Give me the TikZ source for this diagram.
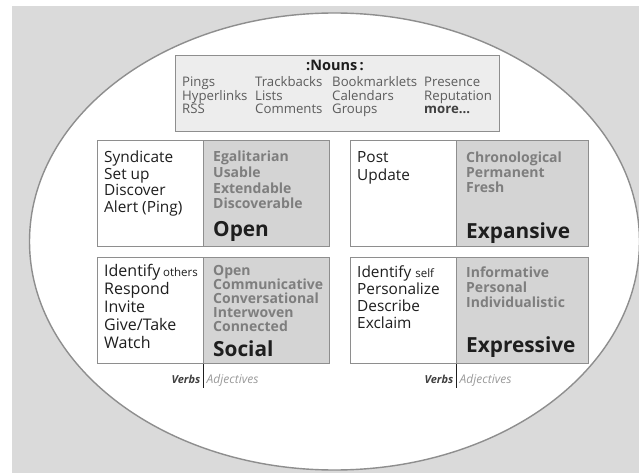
\documentclass[tikz,border=0pt]{standalone}
\usepackage{fontspec}
\setmainfont{Open Sans}
\definecolor{bg}{HTML}{DADADA}
\definecolor{rim}{HTML}{8E8E8E}
\definecolor{adjfill}{HTML}{D4D4D4}
\definecolor{nounfill}{HTML}{EDEDED}
\definecolor{adjtext}{HTML}{7E7E7E}
\definecolor{nountext}{HTML}{5C5C5C}
\definecolor{ink}{HTML}{1E1E1E}
\definecolor{tagtext}{HTML}{9A9A9A}
\begin{document}
\begin{tikzpicture}[x=1pt,y=-1pt,
  txt/.style={anchor=base west, inner sep=0pt},
  verb/.style={txt, text=ink, font=\fontsize{15.4}{15.4}\selectfont},
  bigverb/.style={txt, text=ink, font=\fontsize{16}{16}\selectfont},
  adj/.style={txt, text=adjtext, font=\bfseries\fontsize{14}{14}\selectfont},
  head/.style={txt, text=ink, font=\bfseries\fontsize{20.8}{20.8}\selectfont},
  noun/.style={txt, text=nountext, font=\fontsize{13.2}{13.2}\selectfont},
  verbbox/.style={draw=rim, line width=1.1pt, fill=white, anchor=north west, inner sep=0pt, minimum width=106pt, minimum height=105.5pt},
  adjbox/.style={draw=rim, line width=1.1pt, fill=adjfill, anchor=north west, inner sep=0pt, minimum height=105.5pt},
  tick/.style={draw=ink, line width=1pt}]
\useasboundingbox (0,0) rectangle (639,473);
% backdrop and oval
\fill[bg] (12,6) rectangle (639,473);
\draw[rim, fill=white, line width=1.4pt] (334.5,241.5) ellipse [x radius=305pt, y radius=228.5pt];

% nouns panel
\node[draw=rim, line width=1.1pt, fill=nounfill, anchor=north west, inner sep=0pt,
      minimum width=324pt, minimum height=76pt] (nouns) at (175,55) {};
\node[anchor=base, inner sep=0pt, text=ink, font=\bfseries\fontsize{14.5}{14.5}\selectfont] (nounhead) at (335,71) {:Nouns\,:};
\foreach \t [count=\i from 0] in {Pings,Hyperlinks,RSS}
  \node[noun] (na\i) at (182,{87+13.3*\i}) {\t};
\foreach \t [count=\i from 0] in {Trackbacks,Lists,Comments}
  \node[noun] (nb\i) at (255,{87+13.3*\i}) {\t};
\foreach \t [count=\i from 0] in {Bookmarklets,Calendars,Groups}
  \node[noun] (nc\i) at (332,{87+13.3*\i}) {\t};
\foreach \t [count=\i from 0] in {Presence,Reputation}
  \node[noun] (nd\i) at (424,{87+13.3*\i}) {\t};
\node[noun, text=ink!85, font=\bfseries\fontsize{13.2}{13.2}\selectfont] (nmore) at (424,113.6) {more...};

% Open
\node[verbbox] (olv) at (97,140) {};
\node[adjbox, minimum width=126pt] (ola) at (203,140) {};
\foreach \t [count=\i from 0] in {Syndicate,Set up,Discover,Alert (Ping)}
  \node[verb] (olt\i) at (104,{163+16.4*\i}) {\t};
\foreach \t [count=\i from 0] in {Egalitarian,Usable,Extendable,Discoverable}
  \node[adj] (oat\i) at (213,{162+15.6*\i}) {\t};
\node[head] (open) at (213,236) {Open};

% Expansive
\node[verbbox] (erv) at (350,140) {};
\node[adjbox, minimum width=132pt] (era) at (456,140) {};
\foreach \t [count=\i from 0] in {Post,Update}
  \node[verb] (ert\i) at (357,{163+17.5*\i}) {\t};
\foreach \t [count=\i from 0] in {Chronological,Permanent,Fresh}
  \node[adj] (eat\i) at (466,{163+14.7*\i}) {\t};
\node[head] (expansive) at (466,238) {Expansive};

% Social
\node[verbbox] (slv) at (97,257) {};
\node[adjbox, minimum width=126pt] (sla) at (203,257) {};
\foreach \t [count=\i from 0] in {{Identify\,{\fontsize{11.5}{11.5}\selectfont others}},Respond,Invite,Give/Take,Watch}
  \node[bigverb] (slt\i) at (104,{276.5+18.1*\i}) {\t};
\foreach \t [count=\i from 0] in {Open,Communicative,Conversational,Interwoven,Connected}
  \node[adj] (sat\i) at (213,{275+14*\i}) {\t};
\node[head] (social) at (213,356) {Social};

% Expressive
\node[verbbox] (xrv) at (350,257) {};
\node[adjbox, minimum width=132pt] (xra) at (456,257) {};
\foreach \t [count=\i from 0] in {{Identify {\fontsize{11.5}{11.5}\selectfont self}},Personalize,Describe,Exclaim}
  \node[verb] (xrt\i) at (357,{277+17*\i}) {\t};
\foreach \t [count=\i from 0] in {Informative,Personal,Individualistic}
  \node[adj] (xat\i) at (466,{277+15*\i}) {\t};
\node[head] (expressive) at (466,352) {Expressive};

% verbs / adjectives tags
\coordinate (tickL) at (203,388);
\coordinate (tickR) at (456,388);
\draw[tick] (sla.south west) -- (tickL);
\draw[tick] (xra.south west) -- (tickR);
\node[anchor=base east, inner sep=0pt, text=ink!85, font=\bfseries\itshape\fontsize{11}{11}\selectfont] (vbL) at (200.5,383) {Verbs};
\node[anchor=base west, inner sep=0pt, text=tagtext, font=\itshape\fontsize{12}{12}\selectfont] (adL) at (206.5,383) {Adjectives};
\node[anchor=base east, inner sep=0pt, text=ink!85, font=\bfseries\itshape\fontsize{11}{11}\selectfont] (vbR) at (453.5,383) {Verbs};
\node[anchor=base west, inner sep=0pt, text=tagtext, font=\itshape\fontsize{12}{12}\selectfont] (adR) at (459.5,383) {Adjectives};
\end{tikzpicture}
\end{document}
